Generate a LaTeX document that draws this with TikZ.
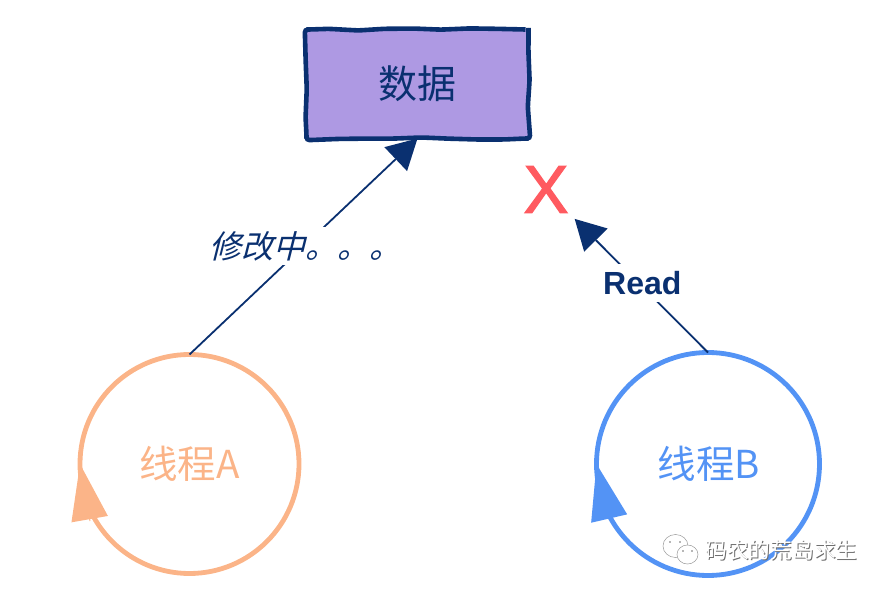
\documentclass[tikz,border=0pt]{standalone}
\usepackage{fontspec}
\usepackage{xcolor}
\setmainfont{Liberation Sans}
\newfontfamily\cjk{Noto Sans CJK SC}
\newfontfamily\cjkslant[FakeSlant=0.25]{Noto Sans CJK SC}
\newfontfamily\xfont[FakeBold=1.6]{Liberation Sans}
\usetikzlibrary{positioning,calc,arrows.meta,decorations.pathmorphing}
\definecolor{navy}{HTML}{0A3070}
\definecolor{boxfill}{HTML}{AE99E3}
\definecolor{orangeline}{HTML}{FBB488}
\definecolor{blueline}{HTML}{5393F5}
\definecolor{redmark}{HTML}{FF5A60}
\definecolor{markgray}{HTML}{6E6E6E}
\tikzset{
    databox/.style={draw=navy, fill=boxfill, line width=4.6pt, minimum width=222pt, minimum height=109pt, outer sep=0pt, inner sep=0pt,
        decorate, decoration={random steps, segment length=28pt, amplitude=1.1pt}, rounded corners=3pt},
    thread/.style 2 args={draw=#1, text=#1, circle, line width=4.8pt, minimum size=#2, outer sep=0pt, inner sep=0pt},
    threadtip/.style={draw=#1, line width=1pt, -{Triangle[length=56pt,width=37pt,line width=0pt,fill=#1]}},
    link/.style={draw=navy, line width=1.8pt, -{Triangle[length=30pt,width=33pt,line width=0pt,fill=navy]}},
    lbl/.style={fill=white, inner sep=0pt, minimum height=38pt, text=navy}
}
\begin{document}
\pgfmathsetseed{17}
\begin{tikzpicture}[x=1pt,y=1pt]
    \useasboundingbox (0,0) rectangle (887,590);

    \node[databox] (data) at (417.5,506) {\fontsize{39}{40}\cjk\textcolor{navy}{数据}};
    \node[thread={orangeline}{219pt}] (threadA) at (189.5,126) {\fontsize{38.5}{40}\cjk 线程A};
    \node[thread={blueline}{223pt}] (threadB) at (708,126) {\hspace{2pt}\fontsize{38.5}{40}\cjk 线程B};
    \node[text=redmark, inner sep=0pt, outer sep=6pt] (xmark) at (546,400.5) {\fontsize{68}{70}\xfont X};

    % Arrows up from the threads
    \draw[link] (threadA.north) -- (data.south) node[pos=0.47, lbl, xshift=9pt, yshift=7pt] (modify) {\fontsize{32}{33}\cjkslant\textcolor{navy}{修改中。。。}};
    \draw[link] (threadB.north) -- (xmark.south east) node[pos=0.5, lbl, xshift=1pt, yshift=3pt] (read) {\fontsize{32}{33}\selectfont\bfseries Read};

    % Tips on the circles
    \coordinate (baseA) at ($(threadA.west)+(10,-57)$);
    \coordinate (baseB) at ($(threadB.west)+(13,-56)$);
    \draw[threadtip=orangeline] (baseA) -- (threadA.west);
    \draw[threadtip=blueline] (baseB) -- (threadB.west);

    % Watermark
    \draw[markgray!70, fill=white, line width=0.5pt] (675.5,44) ellipse (12.5pt and 11.5pt);
    \draw[markgray!70, fill=white, line width=0.5pt] (687.5,35.5) ellipse (10.5pt and 9.5pt);
    \foreach \px/\py in {670/48,680/48,683/39,692/39}
        \fill[markgray] (\px,\py) circle (0.9pt);
    \node[text=markgray, inner sep=0pt] (markshadow) at (782.5,38.5) {\fontsize{21.7}{23}\cjk 码农的荒岛求生};
    \node[text=white, inner sep=0pt] (marktext) at (781.5,39.5) {\fontsize{21.7}{23}\cjk 码农的荒岛求生};
\end{tikzpicture}
\end{document}
